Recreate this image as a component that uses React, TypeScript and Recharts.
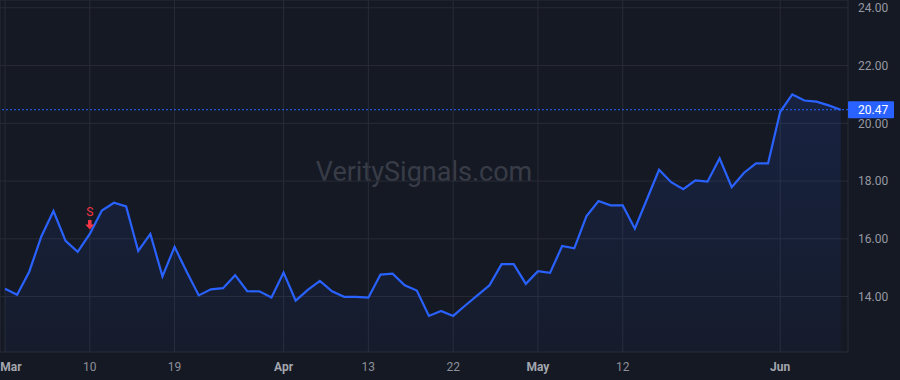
import React from "react";
import {
  ComposedChart,
  Area,
  XAxis,
  YAxis,
  CartesianGrid,
  ReferenceLine,
  ReferenceDot,
} from "recharts";

// Daily closing prices (trading days, Mar → early Jun)
const prices = [
  14.27, 14.06, 14.86, 16.08, 16.96, 15.93, 15.55, 16.17, 16.98, 17.25,
  17.12, 15.58, 16.17, 14.7, 15.72, 14.86, 14.04, 14.25, 14.29, 14.74,
  14.19, 14.18, 13.97, 14.83, 13.86, 14.23, 14.54, 14.18, 13.99, 13.99,
  13.96, 14.76, 14.79, 14.39, 14.21, 13.33, 13.5, 13.33, 13.69, 14.04,
  14.39, 15.12, 15.12, 14.44, 14.88, 14.82, 15.75, 15.67, 16.78, 17.31,
  17.16, 17.16, 16.35, 17.37, 18.39, 17.96, 17.72, 18.02, 17.98, 18.79,
  17.79, 18.28, 18.61, 18.61, 20.4, 21.0, 20.79, 20.75, 20.62, 20.47,
];

// X-axis ticks: bar index and label
const tickIndices = [0, 7, 14, 23, 30, 37, 44, 51, 64];
const tickLabels = ["Mar", "10", "19", "Apr", "13", "22", "May", "12", "Jun"];
const monthLabels = ["Mar", "Apr", "May", "Jun"];

// Y-axis ticks
const yTicks = [14, 16, 18, 20, 22, 24];

// Signal marker
const signalIndex = 7;
const signalText = "S";

const lastPrice = prices[prices.length - 1];
const data = prices.map((v, i) => ({ i, v }));

const FONT = "Roboto, 'Noto Sans', sans-serif";

const XTick = (props: any) => {
  const { x, y, payload } = props;
  const idx = tickIndices.indexOf(payload.value);
  const label = idx >= 0 ? tickLabels[idx] : "";
  const isMonth = monthLabels.includes(label);
  const cx = Math.max(x, 11);
  return (
    <text
      x={cx}
      y={y + 19}
      textAnchor="middle"
      fontFamily={FONT}
      fontSize={12}
      fontWeight={isMonth ? 700 : 400}
      fill={isMonth ? "#a3a6ae" : "#8c8f98"}
    >
      {label}
    </text>
  );
};

const PriceLabel = (props: any) => {
  const vb = props.viewBox || {};
  const x = (vb.x ?? 0) + (vb.width ?? 0);
  const y = vb.y ?? 0;
  return (
    <g>
      <rect x={x} y={y - 8.5} width={46} height={17} fill="#2962ff" rx={1} />
      <text
        x={x + 10}
        y={y + 4.5}
        fontFamily={FONT}
        fontSize={12}
        fill="#ffffff"
      >
        {lastPrice.toFixed(2)}
      </text>
    </g>
  );
};

const SignalShape = (props: any) => {
  const { cx, cy } = props;
  if (cx == null || cy == null) return null;
  const tip = cy - 4.5;
  return (
    <g>
      <text
        x={cx}
        y={cy - 18}
        textAnchor="middle"
        fontFamily={FONT}
        fontSize={12}
        fill="#f23645"
      >
        {signalText}
      </text>
      <path
        d={`M${cx - 1.8},${tip - 9.5} L${cx + 1.8},${tip - 9.5} L${cx + 1.8},${tip - 5} L${cx + 4.5},${tip - 5} L${cx},${tip} L${cx - 4.5},${tip - 5} L${cx - 1.8},${tip - 5} Z`}
        fill="#f23645"
      />
    </g>
  );
};

export default function App() {
  return (
    <div
      style={{
        position: "fixed",
        left: 0,
        top: 0,
        width: 900,
        height: 380,
        background: "#151924",
        overflow: "hidden",
      }}
    >
      <div
        style={{
          position: "absolute",
          left: 0,
          top: 157,
          width: 848,
          textAlign: "center",
          lineHeight: "30px",
          fontFamily: FONT,
          fontSize: 27,
          color: "#383c47",
        }}
      >
        VeritySignals.com
      </div>
      <div style={{ position: "absolute", left: 0, top: 0 }}>
        <ComposedChart
          width={900}
          height={380}
          data={data}
          margin={{ top: 0, right: 0, bottom: 0, left: 0 }}
        >
          <defs>
            <linearGradient id="areaFill" x1="0" y1="0" x2="0" y2="1">
              <stop offset="0%" stopColor="#2962ff" stopOpacity={0.22} />
              <stop offset="100%" stopColor="#2962ff" stopOpacity={0.06} />
            </linearGradient>
          </defs>
          <CartesianGrid stroke="#282c37" strokeWidth={1} />
          <XAxis
            dataKey="i"
            type="number"
            domain={[-0.413, 69.6]}
            allowDataOverflow
            ticks={tickIndices}
            interval={0}
            height={28}
            axisLine={false}
            tickLine={false}
            tickSize={0}
            tickMargin={0}
            tick={<XTick />}
          />
          <YAxis
            orientation="right"
            type="number"
            domain={[12.08, 24.27]}
            allowDataOverflow
            ticks={yTicks}
            interval={0}
            width={52}
            axisLine={false}
            tickLine={false}
            tickSize={0}
            tickMargin={10}
            tickFormatter={(v: number) => v.toFixed(2)}
            tick={{ fill: "#9598a1", fontSize: 12, fontFamily: FONT, textAnchor: "start" }}
          />
          <Area
            type="linear"
            dataKey="v"
            stroke="#2962ff"
            strokeWidth={2.2}
            fill="url(#areaFill)"
            isAnimationActive={false}
            dot={false}
            activeDot={false}
          />
          <ReferenceLine
            y={lastPrice}
            stroke="#2962ff"
            strokeDasharray="2 2"
            strokeWidth={1}
            label={<PriceLabel />}
          />
          <ReferenceDot
            x={signalIndex}
            y={prices[signalIndex]}
            r={0}
            shape={<SignalShape />}
          />
        </ComposedChart>
      </div>
    </div>
  );
}
